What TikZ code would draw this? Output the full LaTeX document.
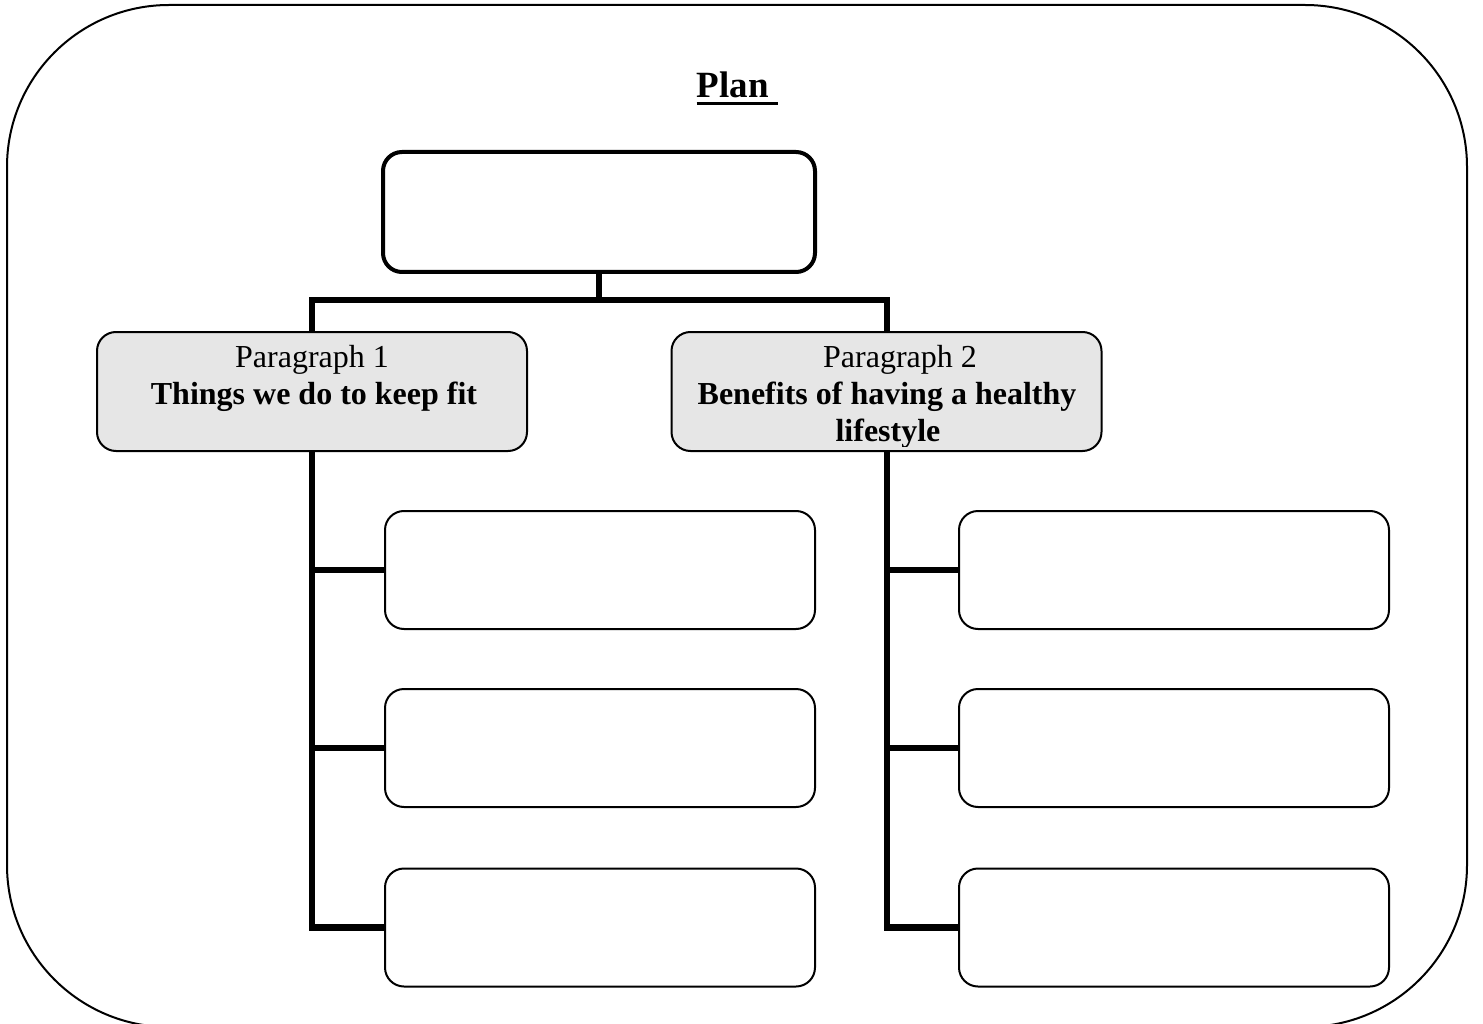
\documentclass[tikz,border=0pt]{standalone}
\usepackage{fontspec}
\setmainfont{Liberation Serif}
\usetikzlibrary{backgrounds}
\definecolor{parfill}{HTML}{E6E6E6}
\begin{document}
\begin{tikzpicture}[x=1pt,y=-1pt,
  box/.style={draw, line width=2pt, rounded corners=19pt, minimum width=430pt, minimum height=118pt, inner sep=0pt, fill=white},
  parbox/.style={box, fill=parfill, minimum height=119pt},
  topbox/.style={box, line width=4pt, minimum width=432pt, minimum height=120pt},
  conn/.style={line width=6.5pt, line join=miter},
  txt/.style={font=\fontsize{32}{38}\selectfont, inner sep=0pt, anchor=base},
  btxt/.style={font=\fontsize{32}{38}\selectfont\bfseries, inner sep=0pt, anchor=base},
  ]
\useasboundingbox (0,0) rectangle (1483,1024);
\draw[line width=2pt, rounded corners=162pt] (7,5) rectangle (1467,1027);

% title
\node[font=\fontsize{37}{44}\selectfont\bfseries, inner sep=0pt, anchor=base] (title) at (737.5,98) {Plan\kern0.25em};
\draw[line width=3pt] ([yshift=-5.5pt]title.base west) -- ([yshift=-5.5pt]title.base east);

% boxes
\node[topbox] (top) at (599,212) {};
\node[parbox] (p1) at (312,391.5) {};
\node[parbox] (p2) at (886.5,391.5) {};
\node[box] (l1) at (600,570) {};
\node[box] (l2) at (600,748) {};
\node[box] (l3) at (600,927.5) {};
\node[box] (r1) at (1174,570) {};
\node[box] (r2) at (1174,748) {};
\node[box] (r3) at (1174,927.5) {};

% paragraph texts
\node[txt] (p1a) at (312,367) {Paragraph 1};
\node[btxt] (p1b) at (314,404) {Things we do to keep fit};
\node[txt] (p2a) at (900,367) {Paragraph 2};
\node[btxt] (p2b) at (887,404) {Benefits of having a healthy};
\begin{scope}
\clip (p2.north west) rectangle ([yshift=6pt]p2.south east);
\node[btxt] (p2c) at (888,441) {lifestyle};
\end{scope}

% connectors
\begin{pgfonlayer}{background}
\coordinate (j) at (599,300);
\coordinate (bl) at (312,300);
\coordinate (br) at (887,300);
\draw[conn] (top.south) -- (j);
\draw[conn] (l3.west) -| (bl) -- (br) |- (r3.west);
\draw[conn] (l1.west -| bl) -- (l1.west);
\draw[conn] (l2.west -| bl) -- (l2.west);
\draw[conn] (r1.west -| br) -- (r1.west);
\draw[conn] (r2.west -| br) -- (r2.west);
\end{pgfonlayer}
\end{tikzpicture}
\end{document}
